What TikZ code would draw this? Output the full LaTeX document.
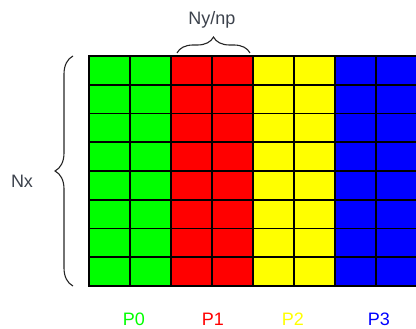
\documentclass[tikz,border=0pt]{standalone}
\usepackage{fontspec}
\setmainfont{Liberation Sans}
\usetikzlibrary{decorations.pathreplacing}
\definecolor{pgreen}{RGB}{0,255,0}
\definecolor{pred}{RGB}{255,0,0}
\definecolor{pyellow}{RGB}{255,255,0}
\definecolor{pblue}{RGB}{0,0,255}
\definecolor{lbl}{RGB}{60,66,76}
\begin{document}
\begin{tikzpicture}[x=1pt,y=-1pt,
  cell/.style={draw=black,line width=1.8pt},
  lab/.style={font=\fontsize{18}{18}\selectfont,inner sep=0pt,anchor=center},
  bracelink/.style={draw=black!85,line width=1.1pt,decorate,decoration={brace,amplitude=#1}}]
\useasboundingbox (0,0) rectangle (416,329);
\begin{scope}
\clip (0,0) rectangle (416,329);
\foreach \c [count=\i from 0] in {pgreen,pgreen,pred,pred,pyellow,pyellow,pblue,pblue}
  \foreach \j in {0,...,7}
    \draw[cell, fill=\c] (89+41*\i, 56+28.75*\j) rectangle ++(41,28.75);
\end{scope}
\coordinate (tl) at (177,53);
\coordinate (tr) at (250,53);
\coordinate (lb) at (73,286);
\coordinate (lt) at (73,56);
\draw[bracelink=16pt] (tl) -- (tr);
\draw[bracelink=18pt] (lb) -- (lt);
\node[lab,text=lbl] (ny) at (212,20) {Ny/np};
\node[lab,text=lbl] (nx) at (22,181) {Nx};
\node[lab,text=pgreen] (p0) at (134,319) {P0};
\node[lab,text=pred] (p1) at (213,319) {P1};
\node[lab,text=pyellow] (p2) at (293,319) {P2};
\node[lab,text=pblue] (p3) at (379,319) {P3};
\end{tikzpicture}
\end{document}
